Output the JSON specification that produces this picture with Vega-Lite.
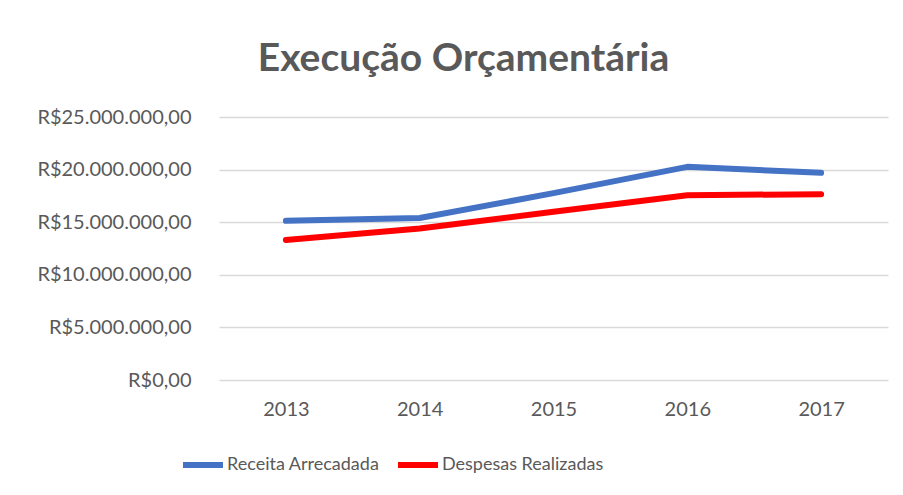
{
  "$schema": "https://vega.github.io/schema/vega-lite/v6.json",
  "width": 669,
  "height": 263,
  "autosize": {"type": "none"},
  "padding": {"left": 219, "top": 117, "right": 15, "bottom": 115},
  "background": "white",
  "config": {
    "locale": {"number": {"decimal": ",", "thousands": ".", "grouping": [3], "currency": ["R$", ""]}},
    "font": "Lato",
    "view": {"stroke": null}
  },
  "title": {
    "text": "Execução Orçamentária",
    "font": "Lato",
    "fontSize": 39,
    "fontWeight": "bold",
    "color": "#595959",
    "anchor": "middle",
    "frame": "group",
    "dx": -90,
    "baseline": "alphabetic",
    "offset": -3
  },
  "data": {
    "values": [
      {"ano": "2013", "serie": "Receita Arrecadada", "valor": 15130000},
      {"ano": "2014", "serie": "Receita Arrecadada", "valor": 15400000},
      {"ano": "2015", "serie": "Receita Arrecadada", "valor": 17760000},
      {"ano": "2016", "serie": "Receita Arrecadada", "valor": 20260000},
      {"ano": "2017", "serie": "Receita Arrecadada", "valor": 19690000},
      {"ano": "2013", "serie": "Despesas Realizadas", "valor": 13300000},
      {"ano": "2014", "serie": "Despesas Realizadas", "valor": 14400000},
      {"ano": "2015", "serie": "Despesas Realizadas", "valor": 16000000},
      {"ano": "2016", "serie": "Despesas Realizadas", "valor": 17570000},
      {"ano": "2017", "serie": "Despesas Realizadas", "valor": 17660000}
    ]
  },
  "mark": {"type": "line", "strokeWidth": 6, "strokeCap": "round", "strokeJoin": "round"},
  "encoding": {
    "x": {
      "field": "ano", "type": "ordinal",
      "scale": {"type": "point", "padding": 0.5},
      "axis": {
        "title": null, "domain": false, "ticks": false, "grid": false,
        "labelAngle": 0, "labelFontSize": 20, "labelColor": "#595959",
        "labelPadding": 19, "labelFont": "Lato"
      }
    },
    "y": {
      "field": "valor", "type": "quantitative",
      "scale": {"domain": [0, 25000000], "nice": false},
      "axis": {
        "title": null, "domain": false, "ticks": false,
        "values": [0, 5000000, 10000000, 15000000, 20000000, 25000000],
        "format": "$,.2f",
        "labelFontSize": 20, "labelColor": "#595959", "labelPadding": 28,
        "labelFont": "Lato",
        "gridColor": "#d9d9d9", "gridWidth": 1.5
      }
    },
    "color": {
      "field": "serie", "type": "nominal",
      "scale": {"domain": ["Receita Arrecadada", "Despesas Realizadas"], "range": ["#4472C4", "#FF0000"]},
      "legend": {
        "title": null, "orient": "none", "direction": "horizontal",
        "legendX": -39, "legendY": 325,
        "symbolType": "stroke", "symbolSize": 1600, "symbolStrokeWidth": 6,
        "labelFontSize": 18, "labelColor": "#595959", "labelOffset": 1,
        "labelLimit": 0,
        "columnPadding": 6, "labelFont": "Lato"
      }
    }
  }
}
